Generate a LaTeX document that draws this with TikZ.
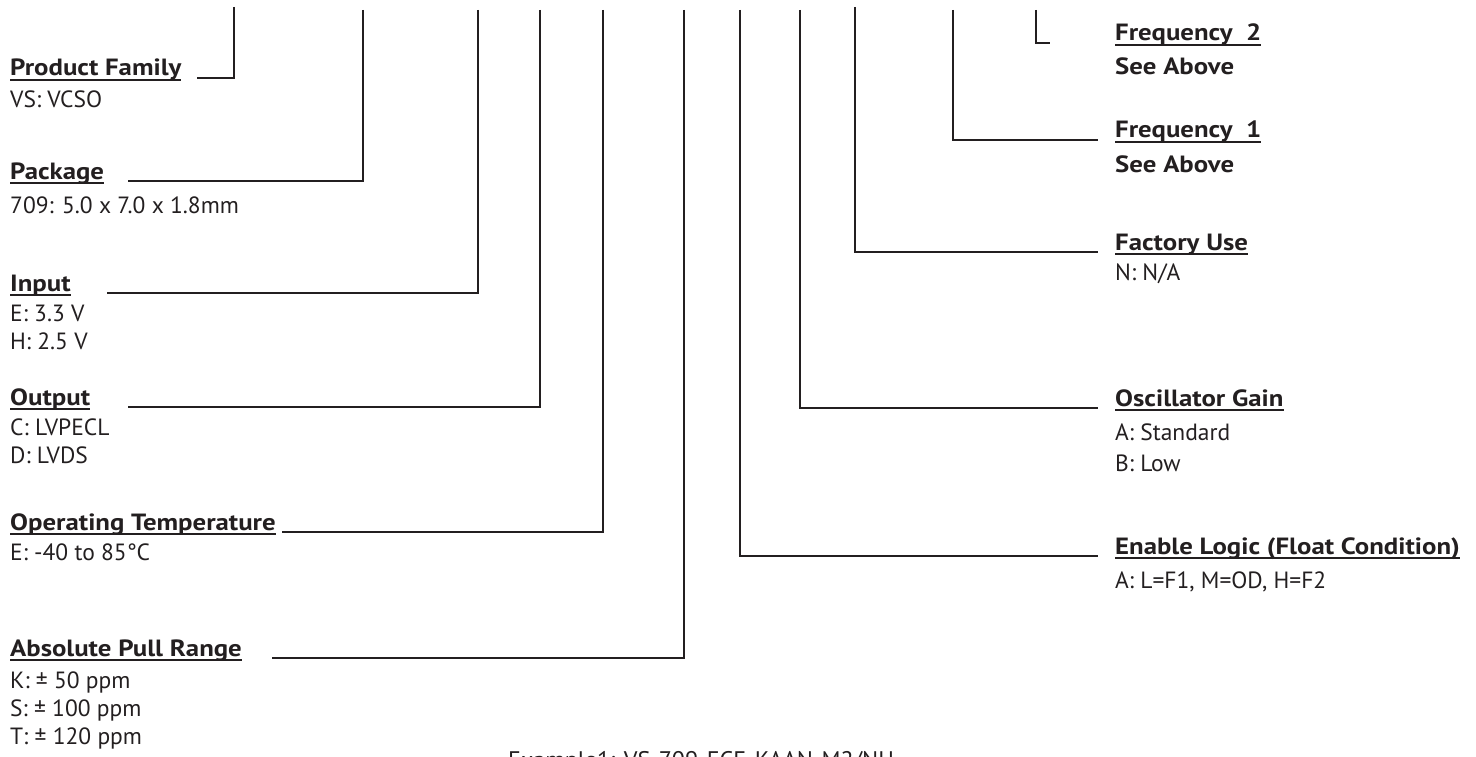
\documentclass[tikz,border=0pt]{standalone}
\usepackage{fontspec}
\setmainfont{PT Sans}[BoldFeatures={FakeStretch=1.14}]
\definecolor{ink}{HTML}{231F20}
\newcommand{\hdr}[1]{\setbox0=\hbox{#1}\rlap{\rule[-4.8pt]{\wd0}{1.6pt}}\box0}
\begin{document}
\begin{tikzpicture}[x=1pt,y=-1pt,
  conn/.style={draw=ink,line width=2.3pt},
  head/.style={anchor=base west,inner sep=0pt,text=ink,font=\fontsize{23.5}{28}\selectfont\bfseries},
  desc/.style={anchor=base west,inner sep=0pt,text=ink,font=\fontsize{23.5}{28}\selectfont},
  descb/.style={desc,font=\fontsize{23.5}{28}\selectfont\bfseries},
  example/.style={anchor=base west,inner sep=0pt,text=ink,font=\fontsize{24}{28}\selectfont}]
\useasboundingbox (0,0) rectangle (1476,757);
% ---------- left side ----------
\node[head] (pf) at (10,76) {\hdr{Product Family}};
\node[desc] (pf1) at (10,108) {VS: VCSO};
\coordinate (pf-top) at (234,7);
\coordinate (pf-end) at (197,78);
\draw[conn] (pf-top) |- (pf-end);

\node[head] (pk) at (10,179) {\hdr{Package}};
\node[desc] (pk1) at (10,213) {709: 5.0 x 7.0 x 1.8mm};
\coordinate (pk-top) at (363,10);
\coordinate (pk-end) at (128,181);
\draw[conn] (pk-top) |- (pk-end);

\node[head] (in) at (10,291) {\hdr{Input}};
\node[desc] (in1) at (10,321) {E: 3.3 V};
\node[desc] (in2) at (10,349) {H: 2.5 V};
\coordinate (in-top) at (478,10);
\coordinate (in-end) at (107,293);
\draw[conn] (in-top) |- (in-end);

\node[head] (out) at (10,405) {\hdr{Output}};
\node[desc] (out1) at (10,435) {C: LVPECL};
\node[desc] (out2) at (10,463) {D: LVDS};
\coordinate (out-top) at (540,10);
\coordinate (out-end) at (128,407);
\draw[conn] (out-top) |- (out-end);

\node[head] (ot) at (10,530) {\hdr{Operating Temperature}};
\node[desc] (ot1) at (10,560) {E: -40 to 85°C};
\coordinate (ot-top) at (603,10);
\coordinate (ot-end) at (282,532);
\draw[conn] (ot-top) |- (ot-end);

\node[head] (apr) at (10,656) {\hdr{Absolute Pull Range}};
\node[desc] (apr1) at (10,688) {K: ± 50 ppm};
\node[desc] (apr2) at (10,716) {S: ± 100 ppm};
\node[desc] (apr3) at (10,744) {T: ± 120 ppm};
\coordinate (apr-top) at (684,10);
\coordinate (apr-end) at (272,658);
\draw[conn] (apr-top) |- (apr-end);

% ---------- right side ----------
\node[head] (f2) at (1115,41) {\hdr{Frequency\ \ 2}};
\node[descb] (f21) at (1115,75) {See Above};
\coordinate (f2-top) at (1036,10);
\coordinate (f2-end) at (1050,43);
\draw[conn] (f2-top) |- (f2-end);

\node[head] (f1) at (1115,138) {\hdr{Frequency\ \ 1}};
\node[descb] (f11) at (1115,172) {See Above};
\coordinate (f1-top) at (953,10);
\coordinate (f1-end) at (1098,140);
\draw[conn] (f1-top) |- (f1-end);

\node[head] (fu) at (1115,250) {\hdr{Factory Use}};
\node[desc] (fu1) at (1115,280) {N: N/A};
\coordinate (fu-top) at (855,7);
\coordinate (fu-end) at (1098,252);
\draw[conn] (fu-top) |- (fu-end);

\node[head] (og) at (1115,406) {\hdr{Oscillator Gain}};
\node[desc] (og1) at (1115,440) {A: Standard};
\node[desc] (og2) at (1115,471) {B: Low};
\coordinate (og-top) at (800,10);
\coordinate (og-end) at (1098,408);
\draw[conn] (og-top) |- (og-end);

\node[head] (el) at (1115,554) {\hdr{Enable Logic (Float Condition)}};
\node[desc] (el1) at (1115,588) {A: L=F1, M=OD, H=F2};
\coordinate (el-top) at (740,10);
\coordinate (el-end) at (1098,556);
\draw[conn] (el-top) |- (el-end);

% ---------- example (cut off at bottom, as in the reference) ----------
\node[example] (ex) at (508,768) {Example1: VS-709-ECE-KAAN-M2/NU};
\end{tikzpicture}
\end{document}
